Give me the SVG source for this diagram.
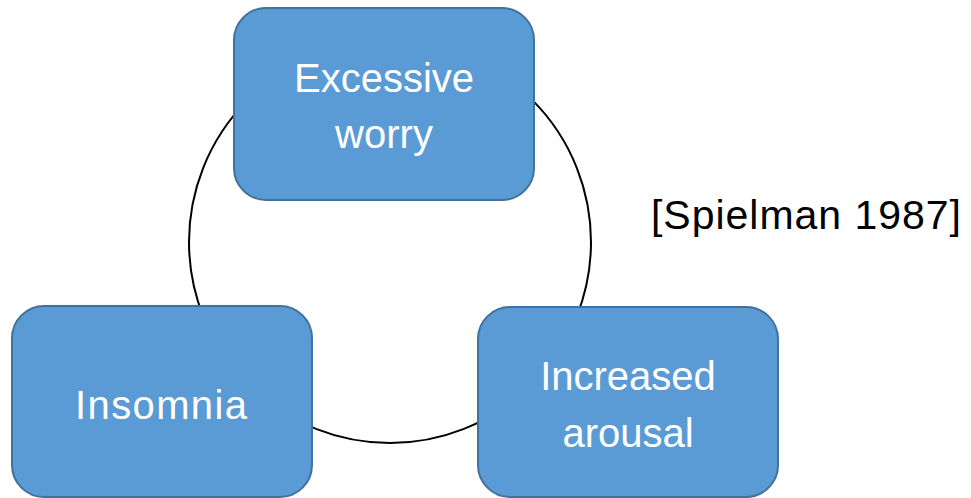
<svg xmlns="http://www.w3.org/2000/svg" width="971" height="498" viewBox="0 0 971 498">
  <style>
    .box { fill: #5B9BD5; stroke: #41719C; stroke-width: 2; }
    .lbl { font-family: "Liberation Sans", Arial, sans-serif; font-size: 40px; fill: #ffffff; text-anchor: middle; }
    .cite { font-family: "Liberation Sans", Arial, sans-serif; font-size: 41px; fill: #000000; }
    .cycle { fill: none; stroke: #000000; stroke-width: 2; }
  </style>
  <rect width="971" height="498" fill="#ffffff"/>
  <g id="connectors">
    <circle class="cycle" cx="390" cy="242" r="201"/>
  </g>
  <g id="node-worry">
    <rect class="box" x="234" y="8" width="300" height="192" rx="32"/>
    <text class="lbl" x="384" y="92">Excessive</text>
    <text class="lbl" x="384" y="148">worry</text>
  </g>
  <g id="node-insomnia">
    <rect class="box" x="12" y="306" width="300" height="191" rx="32"/>
    <text class="lbl" x="161" y="419" textLength="172">Insomnia</text>
  </g>
  <g id="node-arousal">
    <rect class="box" x="478" y="307" width="300" height="190" rx="32"/>
    <text class="lbl" x="628" y="390">Increased</text>
    <text class="lbl" x="628" y="447">arousal</text>
  </g>
  <text class="cite" x="651" y="229" textLength="310">[Spielman 1987]</text>
</svg>
